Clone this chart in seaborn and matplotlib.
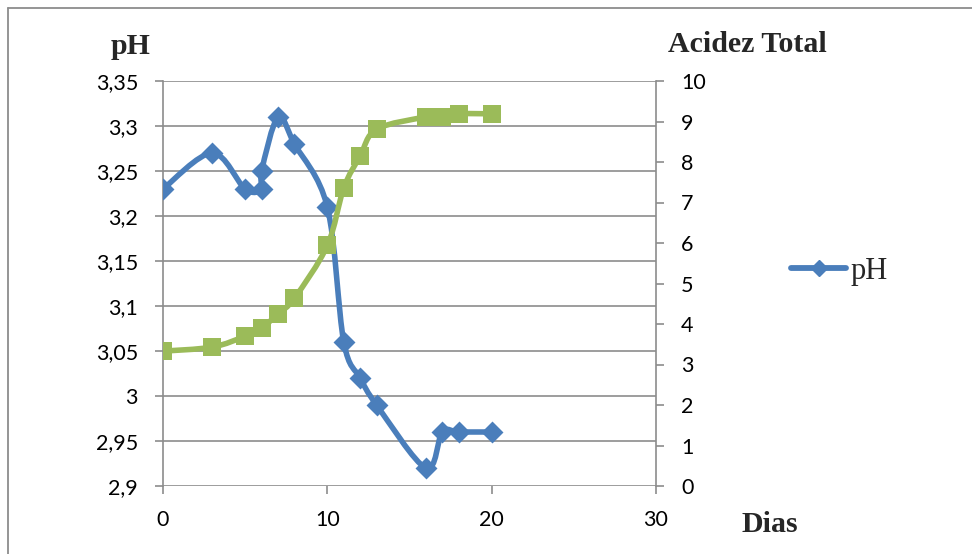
import numpy as np
import matplotlib
matplotlib.use("Agg")
import matplotlib.pyplot as plt
from matplotlib.path import Path
from matplotlib.patches import PathPatch
from matplotlib.lines import Line2D
import seaborn as sns

# pH over the fermentation days
dias_ph = [0, 3, 5, 6, 6, 7, 8, 10, 11, 12, 13, 16, 17, 18, 20]
ph = [3.23, 3.27, 3.23, 3.23, 3.25, 3.31, 3.28, 3.21, 3.06, 3.02, 2.99, 2.92, 2.96, 2.96, 2.96]

# total acidity over the same days
dias_acidez = [0, 3, 5, 6, 7, 8, 10, 11, 12, 13, 16, 17, 18, 20]
acidez = [3.33, 3.43, 3.70, 3.90, 4.25, 4.64, 5.94, 7.36, 8.15, 8.81, 9.11, 9.11, 9.19, 9.19]

ph_ticks = [2.9, 2.95, 3.0, 3.05, 3.1, 3.15, 3.2, 3.25, 3.3, 3.35]
ph_labels = ["2,9", "2,95", "3", "3,05", "3,1", "3,15", "3,2", "3,25", "3,3", "3,35"]
acidez_ticks = list(range(0, 11))
dias_ticks = [0, 10, 20, 30]

BLUE = "#4A7EBB"
GREEN = "#9BBB59"
GRID = "#8C8C8C"

sns.set_theme(style="white")
plt.rcParams["font.family"] = ["Lato", "DejaVu Sans"]

W, H = 972, 554
fig = plt.figure(figsize=(W / 100, H / 100), dpi=100)
fig.patch.set_facecolor("white")


def fx(px):
    return px / W


def fy(py):
    return 1 - py / H


ax = fig.add_axes([fx(163), fy(486), fx(656) - fx(163), fy(81) - fy(486)])
ax2 = ax.twinx()


def smooth_path(xs, ys):
    """Catmull-Rom curve through the points, expressed as cubic Bezier segments."""
    pts = np.column_stack([xs, ys]).astype(float)
    n = len(pts)
    verts = [pts[0]]
    codes = [Path.MOVETO]
    for i in range(n - 1):
        p0 = pts[i - 1] if i > 0 else pts[i]
        p1 = pts[i]
        p2 = pts[i + 1]
        p3 = pts[i + 2] if i + 2 < n else pts[i + 1]
        c1 = p1 + (p2 - p0) / 6.0
        c2 = p2 - (p3 - p1) / 6.0
        verts += [c1, c2, p2]
        codes += [Path.CURVE4] * 3
    return Path(verts, codes)


# pH series (primary axis)
ax.add_patch(PathPatch(smooth_path(dias_ph, ph), facecolor="none", edgecolor=BLUE,
                       lw=4.0, capstyle="round", joinstyle="round", zorder=3))
sns.scatterplot(x=dias_ph, y=ph, marker="D", s=125, color=BLUE, edgecolor=BLUE,
                linewidth=0, ax=ax, zorder=4, legend=False)

# total acidity series (secondary axis)
ax2.add_patch(PathPatch(smooth_path(dias_acidez, acidez), facecolor="none", edgecolor=GREEN,
                        lw=4.0, capstyle="round", joinstyle="round", zorder=3))
sns.scatterplot(x=dias_acidez, y=acidez, marker="s", s=155, color=GREEN, edgecolor=GREEN,
                linewidth=0, ax=ax2, zorder=4, legend=False)

ax.set_xlim(0, 30)
ax.set_ylim(2.9, 3.35)
ax2.set_ylim(0, 10)

ax.set_yticks(ph_ticks)
ax.set_yticklabels(ph_labels)
ax.set_xticks(dias_ticks)
ax.set_xticklabels([str(t) for t in dias_ticks])
ax2.set_yticks(acidez_ticks)
ax2.set_yticklabels([str(t) for t in acidez_ticks])

ax.grid(axis="y", color=GRID, lw=1.2)
ax.grid(axis="x", visible=False)
ax2.grid(False)
ax.set_axisbelow(True)

for a in (ax, ax2):
    for s in a.spines.values():
        s.set_visible(False)
ax.spines["left"].set_visible(True)
ax.spines["left"].set_color(GRID)
ax.spines["left"].set_linewidth(1.2)
ax2.spines["right"].set_visible(True)
ax2.spines["right"].set_color(GRID)
ax2.spines["right"].set_linewidth(1.2)

ax.tick_params(axis="y", left=True, length=6, width=1.2, color=GRID, pad=12,
               labelsize=15.5, labelcolor="black")
ax.tick_params(axis="x", bottom=True, length=6, width=1.2, color=GRID, pad=11,
               labelsize=15.5, labelcolor="black")
ax2.tick_params(axis="y", right=True, length=6, width=1.2, color=GRID, pad=12,
                labelsize=15.5, labelcolor="black")
ax.set_xlabel("")
ax.set_ylabel("")
ax2.set_ylabel("")

serif = ["Liberation Serif", "DejaVu Serif"]
fig.text(fx(131), fy(47), "pH", family=serif, weight="bold", fontsize=21.5,
         ha="center", va="center")
fig.text(fx(747), fy(45), "Acidez Total", family=serif, weight="bold", fontsize=21.5,
         ha="center", va="center")
fig.text(fx(770), fy(525), "Dias", family=serif, weight="bold", fontsize=21.5,
         ha="center", va="center")

handle = Line2D([], [], color=BLUE, lw=4.2, marker="D", markersize=8, solid_capstyle="round")
fig.legend([handle], ["pH"], loc="center left", bbox_to_anchor=(fx(791), fy(271)),
           frameon=False, prop={"family": serif, "size": 22}, handlelength=1.8,
           handletextpad=0.15, borderaxespad=0, borderpad=0)

# chart-area border
fig.add_artist(Line2D([fx(8), 1.0], [fy(8), fy(8)], color="#8C8C8C", lw=1.3))
fig.add_artist(Line2D([fx(8), fx(8)], [fy(8), 0.0], color="#8C8C8C", lw=1.3))

fig.savefig("out.png", dpi=100, facecolor="white")
